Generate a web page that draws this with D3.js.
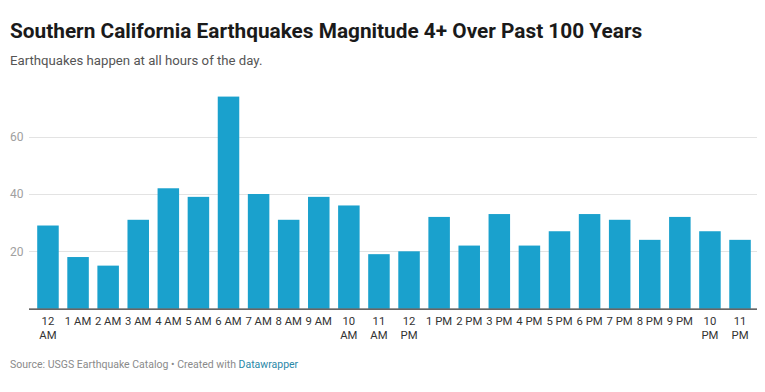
<!DOCTYPE html>
<html>
<head>
<meta charset="utf-8">
<script src="https://cdn.jsdelivr.net/npm/d3@7"></script>
<style>
  html, body { margin: 0; padding: 0; background: #fff; }
  svg { display: block; font-family: Roboto, "Noto Sans", sans-serif; }
</style>
</head>
<body>
<svg id="chart" width="765" height="392"></svg>
<script>
const hours = ["12 AM","1 AM","2 AM","3 AM","4 AM","5 AM","6 AM","7 AM","8 AM","9 AM","10 AM","11 AM",
               "12 PM","1 PM","2 PM","3 PM","4 PM","5 PM","6 PM","7 PM","8 PM","9 PM","10 PM","11 PM"];
const counts = [29,18,15,31,42,39,74,40,31,39,36,19,20,32,22,33,22,27,33,31,24,32,27,24];
const yTicks = [20,40,60];
const wrapped = ["12 AM","10 AM","11 AM","12 PM","10 PM","11 PM"];

const title = "Southern California Earthquakes Magnitude 4+ Over Past 100 Years";
const subtitle = "Earthquakes happen at all hours of the day.";

const svg = d3.select("#chart");
const W = 765, H = 392;
const plotLeft = 29, plotRight = 757, plotTop = 90, plotBottom = 308.6;

svg.append("rect").attr("width", W).attr("height", H).attr("fill", "#fff");

svg.append("text").attr("x", 10).attr("y", 37.5)
  .attr("font-size", 20.8).attr("font-weight", 700).attr("fill", "#1a1a1a")
  .text(title);
svg.append("text").attr("x", 10).attr("y", 65)
  .attr("font-size", 13.2).attr("fill", "#555").text(subtitle);

const x = d3.scaleBand().domain(hours).range([33, 755]).paddingInner(0.285).paddingOuter(0.14);
const y = d3.scaleLinear().domain([0, 20]).range([plotBottom, plotBottom - 57.3]);

// gridlines
const grid = svg.append("g");
grid.selectAll("line").data(yTicks).join("line")
  .attr("x1", plotLeft).attr("x2", plotRight)
  .attr("y1", d => Math.round(y(d)) + 0.5).attr("y2", d => Math.round(y(d)) + 0.5)
  .attr("stroke", "#e3e3e3").attr("stroke-width", 1);
grid.selectAll("text").data(yTicks).join("text")
  .attr("x", 10).attr("y", d => y(d) + 4.3)
  .attr("font-size", 12).attr("fill", "#a0a0a0").text(d => d);

// bars
svg.append("g").selectAll("rect").data(hours).join("rect")
  .attr("x", d => x(d)).attr("width", x.bandwidth())
  .attr("y", (d, i) => y(counts[i])).attr("height", (d, i) => y(0) - y(counts[i]))
  .attr("fill", "#1aa1cd");

// baseline axis
svg.append("line").attr("x1", plotLeft).attr("x2", plotRight)
  .attr("y1", plotBottom + 0.5).attr("y2", plotBottom + 0.5)
  .attr("stroke", "#333").attr("stroke-width", 1.3);

// x labels
const xl = svg.append("g").selectAll("text").data(hours).join("text")
  .attr("x", d => x(d) + x.bandwidth() / 2).attr("y", 325)
  .attr("text-anchor", "middle").attr("font-size", 11.3).attr("fill", "#333");
xl.each(function(d) {
  const t = d3.select(this);
  if (wrapped.includes(d)) {
    const parts = d.split(" ");
    t.append("tspan").attr("x", x(d) + x.bandwidth() / 2).attr("dy", 0).text(parts[0]);
    t.append("tspan").attr("x", x(d) + x.bandwidth() / 2).attr("dy", 13.5).text(parts[1]);
  } else {
    t.text(d);
  }
});

// footer
const foot = svg.append("text").attr("x", 10).attr("y", 367.5).attr("font-size", 10.5).attr("fill", "#8a8a8a");
foot.append("tspan").text("Source: USGS Earthquake Catalog • Created with ");
foot.append("tspan").attr("fill", "#2a88a8").text("Datawrapper");
</script>
</body>
</html>
